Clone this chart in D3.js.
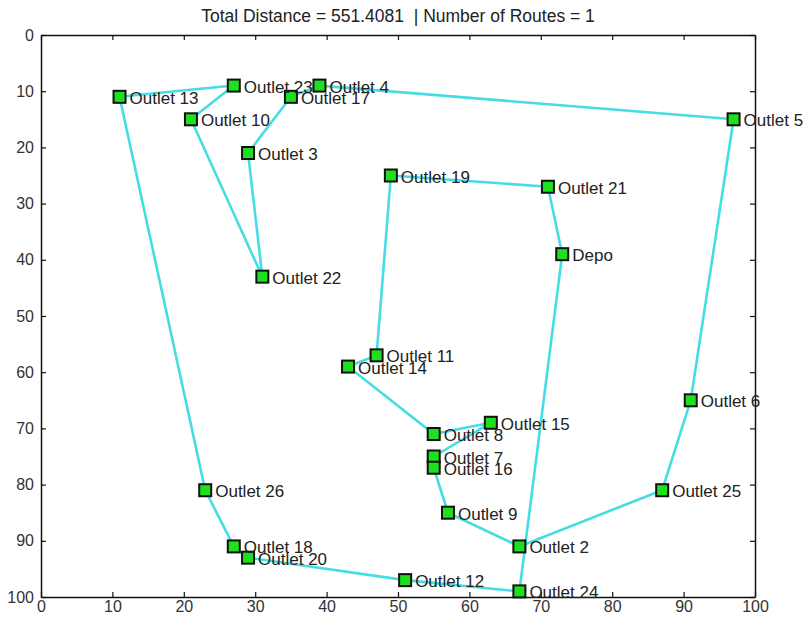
<!DOCTYPE html>
<html>
<head>
<meta charset="utf-8">
<script src="https://cdn.jsdelivr.net/npm/d3@7"></script>
<style>
  body { margin: 0; background: #fff; }
  text { font-family: "Liberation Sans", Arial, sans-serif; }
</style>
</head>
<body>
<div id="chart"></div>
<script>
// Stop names and coordinates
var names = ["Depo", "Outlet 2", "Outlet 3", "Outlet 4", "Outlet 5", "Outlet 6", "Outlet 7",
  "Outlet 8", "Outlet 9", "Outlet 10", "Outlet 11", "Outlet 12", "Outlet 13", "Outlet 14",
  "Outlet 15", "Outlet 16", "Outlet 17", "Outlet 18", "Outlet 19", "Outlet 20", "Outlet 21",
  "Outlet 22", "Outlet 23", "Outlet 24", "Outlet 25", "Outlet 26"];
var xs = [73, 67, 29, 39, 97, 91, 55, 55, 57, 21, 47, 51, 11, 43, 63, 55, 35, 27, 49, 29, 71, 31, 27, 67, 87, 23];
var ys = [39, 91, 21, 9, 15, 65, 75, 71, 85, 15, 57, 97, 11, 59, 69, 77, 11, 91, 25, 93, 27, 43, 9, 99, 81, 81];

// visiting order of the single route (closed back at Depo)
var route = ["Depo", "Outlet 21", "Outlet 19", "Outlet 11", "Outlet 14", "Outlet 8", "Outlet 15",
  "Outlet 7", "Outlet 16", "Outlet 9", "Outlet 2", "Outlet 25", "Outlet 6", "Outlet 5",
  "Outlet 4", "Outlet 17", "Outlet 3", "Outlet 22", "Outlet 10", "Outlet 23", "Outlet 13",
  "Outlet 26", "Outlet 18", "Outlet 20", "Outlet 12", "Outlet 24", "Depo"];

var ticks = [0, 10, 20, 30, 40, 50, 60, 70, 80, 90, 100];
var title = "Total Distance = 551.4081  | Number of Routes = 1";

var width = 806, height = 619;
var margin = {top: 35, right: 51, bottom: 22, left: 41};
var w = width - margin.left - margin.right,
    h = height - margin.top - margin.bottom;

var nodes = names.map(function(n, i) { return {name: n, x: xs[i], y: ys[i]}; });
var byName = {};
nodes.forEach(function(d) { byName[d.name] = d; });

var x = d3.scaleLinear().domain([0, 100]).range([0, w]);
var y = d3.scaleLinear().domain([0, 100]).range([0, h]);

var svg = d3.select("#chart").append("svg")
    .attr("width", width)
    .attr("height", height);

svg.append("text")
    .attr("x", margin.left + w / 2)
    .attr("y", 22)
    .attr("text-anchor", "middle")
    .attr("font-size", 17.5)
    .attr("fill", "#222")
    .style("white-space", "pre")
    .text(title);

var g = svg.append("g")
    .attr("transform", "translate(" + margin.left + "," + margin.top + ")");

// axes: ticks inside, MATLAB style box
var xAxis = d3.axisBottom(x).tickValues(ticks).tickSizeInner(-5).tickSizeOuter(0).tickPadding(4);
var yAxis = d3.axisLeft(y).tickValues(ticks).tickSizeInner(-5).tickSizeOuter(0).tickPadding(7);

g.append("g").attr("transform", "translate(0," + h + ")").call(xAxis);
g.append("g").call(yAxis);
g.append("g").call(d3.axisTop(x).tickValues(ticks).tickSizeInner(-5).tickSizeOuter(0).tickFormat(""));
g.append("g").attr("transform", "translate(" + w + ",0)")
    .call(d3.axisRight(y).tickValues(ticks).tickSizeInner(-5).tickSizeOuter(0).tickFormat(""));

g.selectAll(".domain").attr("stroke", "#111").attr("stroke-width", 1.5);
g.selectAll(".tick line").attr("stroke", "#111").attr("stroke-width", 1.2);
g.selectAll(".tick text").attr("font-size", 16).attr("fill", "#333")
    .attr("font-family", "'Liberation Sans', sans-serif");

// route line
var line = d3.line()
    .x(function(d) { return x(byName[d].x); })
    .y(function(d) { return y(byName[d].y); });

g.append("path")
    .datum(route)
    .attr("d", line)
    .attr("fill", "none")
    .attr("stroke", "#45dde3")
    .attr("stroke-width", 2.6)
    .attr("stroke-linejoin", "round");

// markers
var sz = 12;
g.selectAll(".stop")
    .data(nodes)
  .enter().append("rect")
    .attr("class", "stop")
    .attr("x", function(d) { return x(d.x) - sz / 2; })
    .attr("y", function(d) { return y(d.y) - sz / 2; })
    .attr("width", sz)
    .attr("height", sz)
    .attr("fill", "#1fe01f")
    .attr("stroke", "#111")
    .attr("stroke-width", 2);

// labels
g.selectAll(".lbl")
    .data(nodes)
  .enter().append("text")
    .attr("class", "lbl")
    .attr("x", function(d) { return x(d.x) + 10; })
    .attr("y", function(d) { return y(d.y) + 7; })
    .attr("font-size", 17)
    .attr("fill", "#222")
    .text(function(d) { return d.name; });
</script>
</body>
</html>
